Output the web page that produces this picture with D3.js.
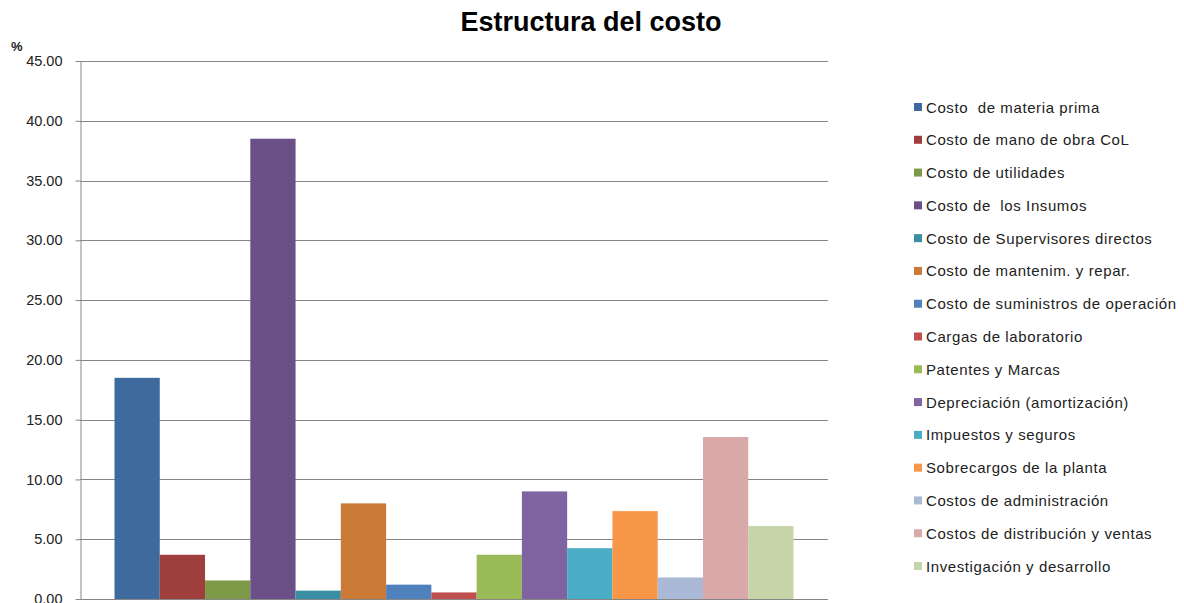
<!DOCTYPE html>
<html><head><meta charset="utf-8">
<script src="https://cdn.jsdelivr.net/npm/d3@7"></script>
<style>body{margin:0;background:#fff}svg{display:block}text{white-space:pre}</style>
</head><body>
<script>
const categories = ["Costo  de materia prima","Costo de mano de obra CoL","Costo de utilidades","Costo de  los Insumos","Costo de Supervisores directos","Costo de mantenim. y repar.","Costo de suministros de operación","Cargas de laboratorio","Patentes y Marcas","Depreciación (amortización)","Impuestos y seguros","Sobrecargos de la planta","Costos de administración","Costos de distribución y ventas","Investigación y desarrollo"];
const values = [18.5, 3.7, 1.55, 38.5, 0.7, 8.0, 1.2, 0.55, 3.7, 9.0, 4.25, 7.35, 1.8, 13.55, 6.1];
const colors = ["#3F6A9D","#9E3F3D","#7E9A48","#6A5086","#3A8FA5","#CC7A37","#4F81BD","#C0504D","#9BBB59","#8064A2","#4BACC6","#F79646","#AAB9D6","#D9A8A8","#C5D5A9"];
const yTicks = [0,5,10,15,20,25,30,35,40,45];

(function(){
const W=1184,H=603;
const svg=d3.select("body").append("svg").attr("width",W).attr("height",H);
const font="Liberation Sans, Arial, sans-serif";
const pl=80,pr=828,pt=61,pb=599;
const y=d3.scaleLinear().domain([0,45]).range([pb,pt]);
const x=d3.scaleBand().domain(categories).range([pl+34.5,pr-34.5]).padding(0);

svg.append("g").selectAll("line").data(yTicks.filter(d=>d>0)).join("line")
  .attr("x1",pl).attr("x2",pr).attr("y1",d=>Math.round(y(d))+0.5).attr("y2",d=>Math.round(y(d))+0.5)
  .attr("stroke","#868686").attr("stroke-width",1);

svg.append("g").selectAll("rect").data(categories).join("rect")
  .attr("x",d=>x(d)).attr("width",x.bandwidth())
  .attr("y",(d,i)=>y(values[i])).attr("height",(d,i)=>pb-y(values[i]))
  .attr("fill",(d,i)=>colors[i]);

const ya=svg.append("g").attr("transform",`translate(${pl+0.5},0)`)
  .call(d3.axisLeft(y).tickValues(yTicks).tickFormat(d3.format(".2f")).tickSize(5).tickSizeOuter(0));
ya.select(".domain").attr("stroke","#868686");
ya.selectAll(".tick line").attr("stroke","#868686");
ya.selectAll(".tick text").attr("font-family",font).attr("font-size",14.5).attr("fill","#222").attr("x",-18);
svg.append("line").attr("x1",pl).attr("x2",pr).attr("y1",pb+0.5).attr("y2",pb+0.5).attr("stroke","#868686");

svg.append("text").attr("x",11).attr("y",51).text("%").attr("font-family",font).attr("font-size",13).attr("font-weight","bold").attr("fill","#222");

svg.append("text").attr("x",591).attr("y",31).attr("text-anchor","middle").text("Estructura del costo")
  .attr("font-family",font).attr("font-size",27).attr("font-weight","bold").attr("fill","#000");

const lg=svg.append("g");
const ly=d3.scalePoint().domain(categories).range([107,566]);
const items=lg.selectAll("g").data(categories).join("g").attr("transform",d=>`translate(914,${ly(d)})`);
items.append("rect").attr("x",0).attr("y",-4).attr("width",8).attr("height",8).attr("fill",(d,i)=>colors[i]);
items.append("text").attr("x",12).attr("y",5.5).text(d=>d).attr("font-family",font).attr("font-size",15).attr("letter-spacing",0.6).attr("fill","#222");
})();
</script>
</body></html>
